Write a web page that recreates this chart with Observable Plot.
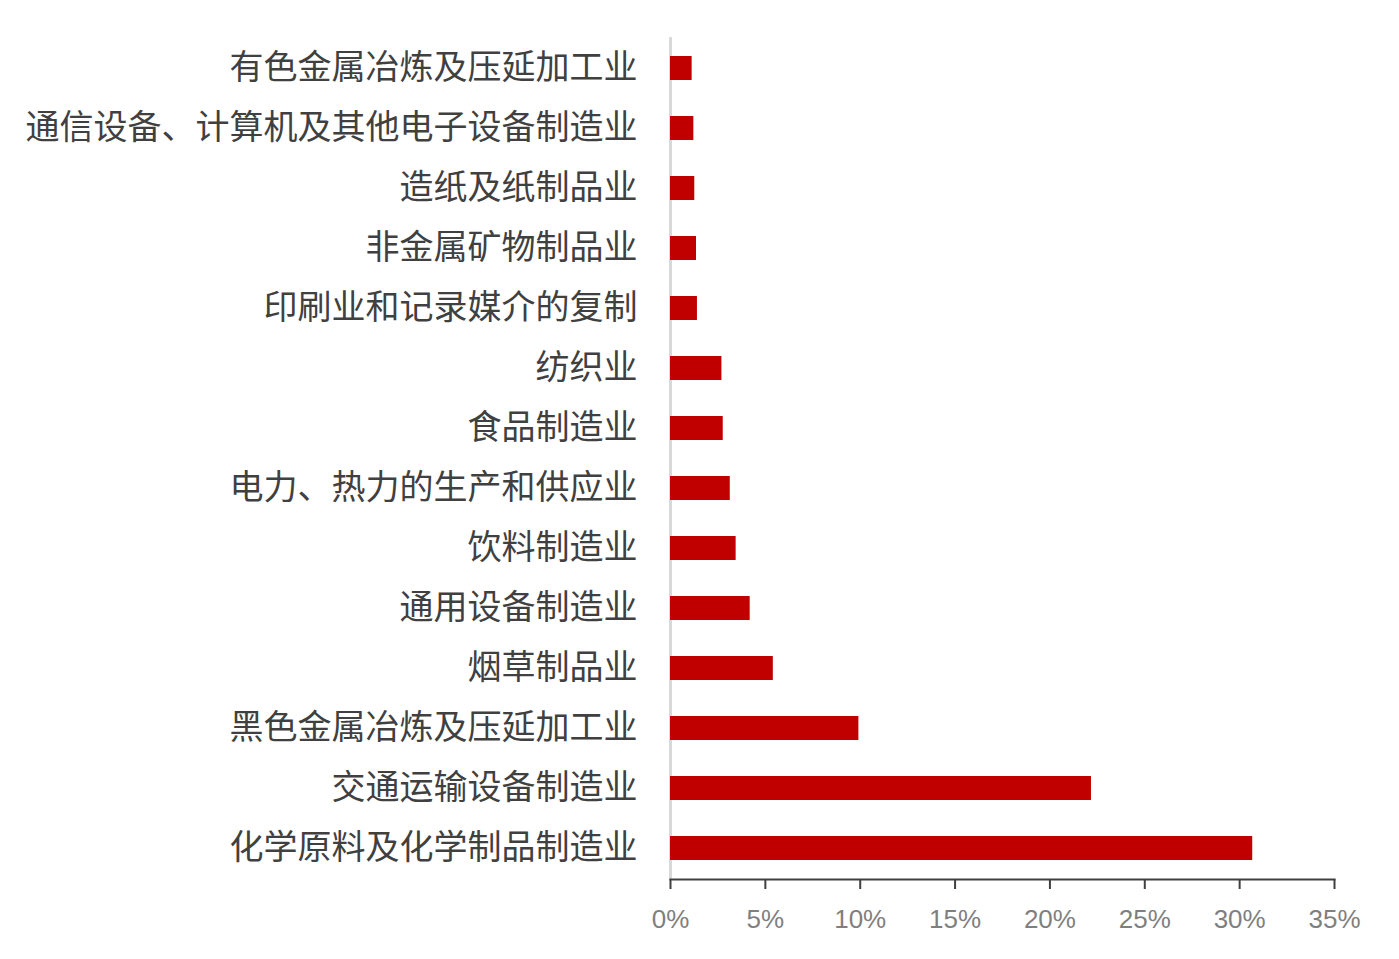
<!DOCTYPE html>
<html>
<head>
<meta charset="utf-8">
<script src="https://cdn.jsdelivr.net/npm/d3@7"></script>
<script src="https://cdn.jsdelivr.net/npm/@observablehq/plot@0.6"></script>
<style>
  html, body { margin: 0; padding: 0; background: #fff; }
</style>
</head>
<body>
<div id="chart"></div>
<script>
const categories = [
  "有色金属冶炼及压延加工业",
  "通信设备、计算机及其他电子设备制造业",
  "造纸及纸制品业",
  "非金属矿物制品业",
  "印刷业和记录媒介的复制",
  "纺织业",
  "食品制造业",
  "电力、热力的生产和供应业",
  "饮料制造业",
  "通用设备制造业",
  "烟草制品业",
  "黑色金属冶炼及压延加工业",
  "交通运输设备制造业",
  "化学原料及化学制品制造业"
];
const values = [0.0114, 0.0123, 0.0128, 0.0137, 0.0142, 0.0271, 0.0278, 0.0315, 0.0346, 0.0420, 0.0542, 0.0993, 0.2219, 0.3069];
const xTicks = [0, 0.05, 0.10, 0.15, 0.20, 0.25, 0.30, 0.35];

const data = categories.map((c, i) => ({category: c, value: values[i]}));

const chart = Plot.plot({
  width: 1399,
  height: 959,
  marginLeft: 670,
  marginRight: 65,
  marginTop: 37,
  marginBottom: 80,
  style: {fontFamily: "'Noto Sans CJK SC', sans-serif", background: "#fff"},
  x: {domain: [0, 0.35], ticks: xTicks, tickFormat: d3.format(".0%"), label: null},
  y: {domain: categories, paddingInner: 0.6, paddingOuter: 0.3, label: null},
  marks: [
    Plot.ruleX([0], {stroke: "#d9d9d9", strokeWidth: 3}),
    Plot.barX(data, {y: "category", x: "value", fill: "#c00000"}),
    Plot.frame({anchor: "bottom", stroke: "#404040", strokeWidth: 2}),
    Plot.axisX(xTicks, {tickSize: 10, tickFormat: () => "", stroke: "#404040", strokeWidth: 2, label: null}),
    Plot.axisX(xTicks, {tickSize: 0, tickPadding: 30, tickFormat: d3.format(".0%"), fill: "#7f7f7f", fontSize: 26, fontFamily: "'Liberation Sans Narrow', 'Liberation Sans', sans-serif", label: null}),
    Plot.axisY({tickSize: 0, tickPadding: 33, fill: "#404040", fontSize: 34, label: null})
  ]
});
document.getElementById("chart").appendChild(chart);
</script>
</body>
</html>
